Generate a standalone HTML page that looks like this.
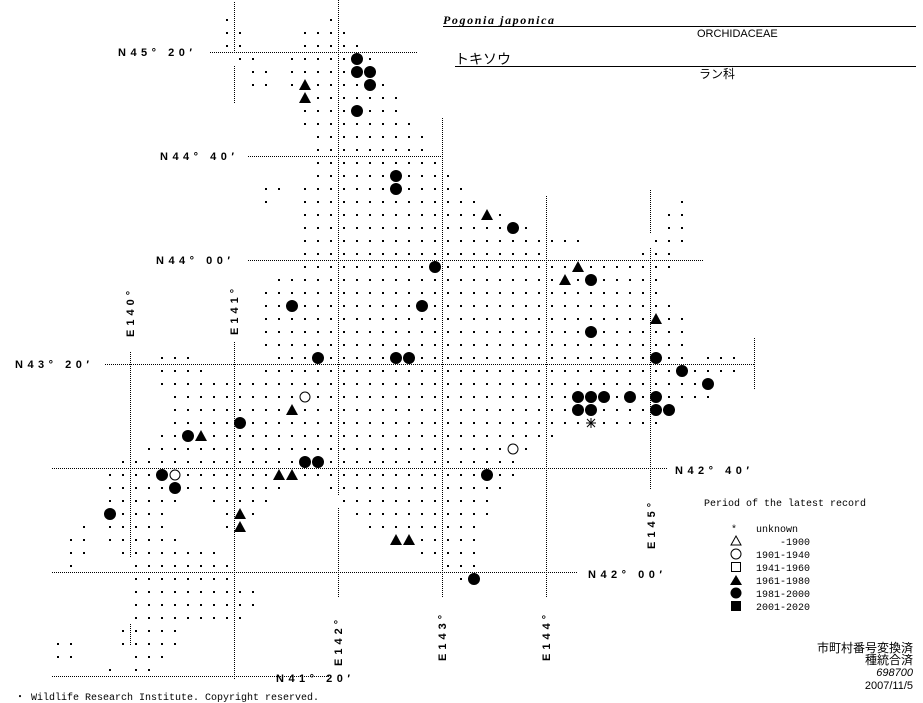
<!DOCTYPE html>
<html><head><meta charset="utf-8"><style>
html,body{margin:0;padding:0;background:#fff}
svg{display:block}
.lab{font-family:"Liberation Sans",sans-serif;font-weight:bold;font-size:11px;letter-spacing:4.5px;fill:#000}
.vl{letter-spacing:4px}
.mono{font-family:"Liberation Mono","Noto Sans CJK JP",monospace;font-size:10px;fill:#000}
.jp{font-family:"Liberation Sans","Noto Sans CJK JP",sans-serif;fill:#000}
</style></head><body>
<svg id="s" width="923" height="703" xmlns="http://www.w3.org/2000/svg">
<g stroke="#000" stroke-width="1" stroke-dasharray="1 1" shape-rendering="crispEdges" fill="none">
<line x1="210" y1="52.5" x2="417" y2="52.5"/>
<line x1="248" y1="156.5" x2="443" y2="156.5"/>
<line x1="248" y1="260.5" x2="703" y2="260.5"/>
<line x1="105" y1="364.5" x2="754" y2="364.5"/>
<line x1="52" y1="468.5" x2="668" y2="468.5"/>
<line x1="52" y1="572.5" x2="577" y2="572.5"/>
<line x1="52" y1="676.5" x2="330" y2="676.5"/>
<line x1="130.5" y1="352" x2="130.5" y2="558"/>
<line x1="130.5" y1="624" x2="130.5" y2="646"/>
<line x1="234.5" y1="2" x2="234.5" y2="52"/>
<line x1="234.5" y1="66" x2="234.5" y2="104"/>
<line x1="234.5" y1="342" x2="234.5" y2="680"/>
<line x1="338.5" y1="0" x2="338.5" y2="495"/>
<line x1="338.5" y1="508" x2="338.5" y2="598"/>
<line x1="442.5" y1="118" x2="442.5" y2="598"/>
<line x1="546.5" y1="196" x2="546.5" y2="598"/>
<line x1="650.5" y1="190" x2="650.5" y2="233"/>
<line x1="650.5" y1="248" x2="650.5" y2="490"/>
<line x1="754.5" y1="338" x2="754.5" y2="390"/>
</g>
<g id="dots"></g>
<text class="lab" x="118" y="56">N45° 20′</text>
<text class="lab" x="160" y="160">N44° 40′</text>
<text class="lab" x="156" y="264">N44° 00′</text>
<text class="lab" x="15" y="368">N43° 20′</text>
<text class="lab" x="675" y="474">N42° 40′</text>
<text class="lab" x="588" y="578">N42° 00′</text>
<text class="lab" x="276" y="682">N41° 20′</text>
<text class="lab vl" transform="translate(134,337) rotate(-90)">E140°</text>
<text class="lab vl" transform="translate(238,335) rotate(-90)">E141°</text>
<text class="lab vl" transform="translate(342,666) rotate(-90)">E142°</text>
<text class="lab vl" transform="translate(446,661) rotate(-90)">E143°</text>
<text class="lab vl" transform="translate(550,661) rotate(-90)">E144°</text>
<text class="lab vl" transform="translate(655,549) rotate(-90)">E145°</text>
<text x="443" y="24" font-family="Liberation Serif,serif" font-style="italic" font-weight="bold" font-size="12" letter-spacing="1.6">Pogonia japonica</text>
<line x1="443" y1="26.5" x2="916" y2="26.5" stroke="#000"/>
<text x="697" y="37" font-family="Liberation Sans,sans-serif" font-size="11">ORCHIDACEAE</text>
<text class="jp" x="455" y="64" font-size="14">トキソウ</text>
<line x1="455" y1="66.5" x2="916" y2="66.5" stroke="#000"/>
<text class="jp" x="699" y="78" font-size="12">ラン科</text>
<text class="mono" x="704" y="506">Period of the latest record</text>
<g class="mono">
<text x="731" y="532">*</text><text x="756" y="532">unknown</text>
<text x="810" y="545" text-anchor="end">-1900</text>
<text x="756" y="558">1901-1940</text>
<text x="756" y="571">1941-1960</text>
<text x="756" y="584">1961-1980</text>
<text x="756" y="597">1981-2000</text>
<text x="756" y="610">2001-2020</text>
</g>
<polygon points="736,536 741,545 731,545" fill="none" stroke="#000"/>
<circle cx="736" cy="554" r="5" fill="none" stroke="#000"/>
<rect x="731.5" y="562.5" width="9" height="9" fill="none" stroke="#000"/>
<polygon points="736,575 742,585 730,585" fill="#000"/>
<circle cx="736" cy="593" r="5.5" fill="#000"/>
<rect x="731" y="601" width="10" height="10" fill="#000"/>
<g class="jp" font-size="12" text-anchor="end">
<text x="913" y="652">市町村番号変換済</text>
<text x="913" y="664">種統合済</text>
<text x="913" y="676" font-style="italic" font-size="11">698700</text>
<text x="913" y="689" font-size="11">2007/11/5</text>
</g>
<text class="mono" x="15" y="700">・ Wildlife Research Institute. Copyright reserved.</text>
</svg>
<script>
var R=[[[0,0],[8,8]],[[0,1],[6,9]],[[0,1],[6,10]],[[1,2],[5,11]],[[2,3],[5,11]],[[2,3],[5,12]],[[6,13]],[[6,13]],[[6,14]],[[7,15]],[[7,15]],[[7,16]],[[7,17]],[[3,4],[6,18]],[[3,3],[6,19],[35,35]],[[6,21],[34,35]],[[6,23],[34,35]],[[6,27],[33,35]],[[6,24],[32,34]],[[6,34]],[[4,33]],[[3,33]],[[3,34]],[[3,35]],[[3,35]],[[3,35]],[[-5,-3],[4,35],[37,39]],[[-5,-2],[3,39]],[[-5,37]],[[-4,37]],[[-4,34]],[[-4,33]],[[-5,25]],[[-6,23]],[[-8,22]],[[-9,22]],[[-9,4],[8,21]],[[-9,-4],[-1,3],[9,20]],[[-9,-5],[0,2],[10,20]],[[-11,-11],[-9,-5],[0,1],[11,19]],[[-12,-11],[-9,-4],[13,19]],[[-12,-11],[-8,-1],[15,19]],[[-12,-12],[-7,0],[17,19]],[[-7,0],[18,19]],[[-7,2]],[[-7,2]],[[-7,1]],[[-8,-4]],[[-13,-12],[-8,-4]],[[-13,-12],[-7,-5]],[[-9,-9],[-7,-6]]];
var B=[[10,3],[10,4],[11,4],[11,5],[10,7],[13,12],[13,13],[22,16],[16,19],[28,20],[5,22],[15,22],[28,24],[7,26],[13,26],[14,26],[33,26],[35,27],[37,28],[27,29],[28,29],[29,29],[31,29],[33,29],[27,30],[28,30],[33,30],[34,30],[1,31],[-3,32],[6,34],[7,34],[-5,35],[20,35],[-4,36],[-9,38],[19,43]];
var T=[[6,5],[6,6],[20,15],[27,19],[26,20],[33,23],[5,30],[-2,32],[4,35],[5,35],[1,38],[1,39],[13,40],[14,40]];
var O=[[6,29],[22,33],[-4,35]];
var A=[[28,31]];
var occ={};[B,T,O,A].forEach(function(l){l.forEach(function(p){occ[p[0]+','+p[1]]=1;});});
function X(c){return Math.round(226.7+13*c);}function Y(r){return Math.round(19.8+13*r);}
var h='';
R.forEach(function(rs,r){rs.forEach(function(g){for(var c=g[0];c<=g[1];c++){if(occ[c+','+r])continue;h+='<rect x="'+(X(c)-1)+'" y="'+(Y(r)-1)+'" width="2" height="2"/>';}});});
B.forEach(function(p){h+='<circle cx="'+X(p[0])+'" cy="'+Y(p[1])+'" r="6"/>';});
T.forEach(function(p){var x=X(p[0]),y=Y(p[1]);h+='<polygon points="'+x+','+(y-6)+' '+(x+6)+','+(y+5)+' '+(x-6)+','+(y+5)+'"/>';});
O.forEach(function(p){h+='<circle cx="'+X(p[0])+'" cy="'+Y(p[1])+'" r="5" fill="#fff" stroke="#000"/>';});
A.forEach(function(p){var x=X(p[0]),y=Y(p[1]);h+='<g stroke="#000"><line x1="'+(x-5)+'" y1="'+y+'" x2="'+(x+5)+'" y2="'+y+'"/><line x1="'+x+'" y1="'+(y-5)+'" x2="'+x+'" y2="'+(y+5)+'"/><line x1="'+(x-4)+'" y1="'+(y-4)+'" x2="'+(x+4)+'" y2="'+(y+4)+'"/><line x1="'+(x-4)+'" y1="'+(y+4)+'" x2="'+(x+4)+'" y2="'+(y-4)+'"/></g>';});
document.getElementById('dots').innerHTML=h;
</script>
</body></html>
